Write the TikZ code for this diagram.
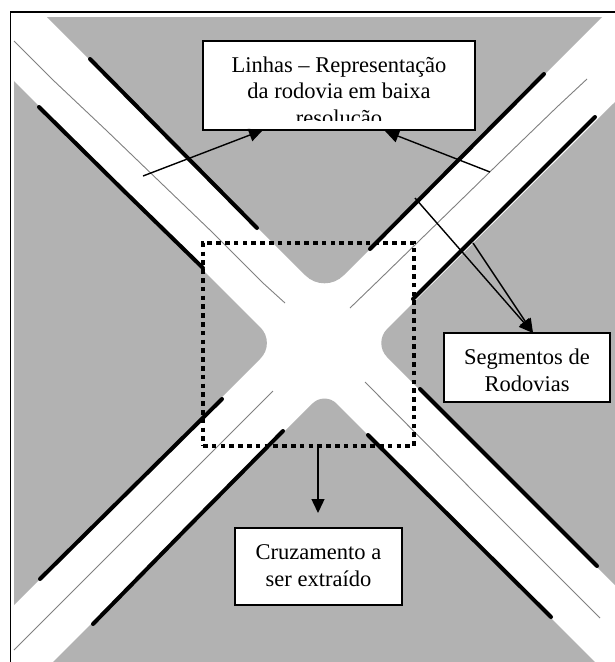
\documentclass[tikz,border=0pt]{standalone}
\usepackage{fontspec}
\setmainfont{Liberation Serif}
\usetikzlibrary{arrows.meta}
\definecolor{terrain}{HTML}{B2B2B2}
\tikzset{
  label box/.style={draw=black,line width=1.7pt,fill=white},
  label text/.style={align=center,font=\fontsize{22.5}{26.5}\selectfont,inner sep=0pt},
  road edge/.style={black,line width=4pt,line cap=round,line join=round},
  road axis/.style={draw=black!50,line width=0.9pt},
  pointer/.style={black,line width=1.4pt,-{Triangle[length=14pt,width=13pt]}},
}
\begin{document}
\begin{tikzpicture}[x=1pt,y=-1pt]
\useasboundingbox (0,0) rectangle (615,662);
% draw background
\fill[white] (0,0) rectangle (615,662);
% draw terrain between the roads
\fill[terrain] (47,17) [rounded corners=27pt] -- (324.5,294.5) [sharp corners] -- (602,17) -- cycle;
\fill[terrain] (14,81) [rounded corners=22pt] -- (276,343) [sharp corners] -- (14,605) -- cycle;
\fill[terrain] (615,102) [rounded corners=20pt] -- (373,343) [sharp corners] -- (615,585) -- cycle;
\fill[terrain] (53,662) [rounded corners=17pt] -- (324.5,391.5) [sharp corners] -- (595,662) -- cycle;
% draw road axes
\draw[road axis] (14,41) -- (53,80) -- (107,131) -- (160,182) -- (212,232) -- (263,283) -- (285,303);
\draw[road axis] (365,382) -- (482,500) -- (600,618);
\draw[road axis] (587,79) -- (557,107) -- (498,164) -- (380,279) -- (350,308);
\draw[road axis] (273,391) -- (14,650);
% draw road edges
\draw[road edge] (90,59) -- (173,143) -- (257,228);
\draw[road edge] (39,107) -- (123,190) -- (203,268);
\draw[road edge] (544,74) -- (370,249);
\draw[road edge] (595,117) -- (413,299);
\draw[road edge] (222,399) -- (132,488) -- (40,579);
\draw[road edge] (283,431) -- (187,528) -- (93,624);
\draw[road edge] (420,389) -- (597,566);
\draw[road edge] (368,435) -- (551,617);
% draw crossing window
\node[draw=black,line width=4pt,dash pattern=on 4.6pt off 4.2pt,minimum width=211pt,minimum height=203pt,inner sep=0pt] (crossWindow) at (308.5,344.5) {};
% draw outer frame
\draw[black,line width=1.6pt] (10.5,662) -- (10.5,12) -- (615,12);
% draw boxes
\node[label box,minimum width=272pt,minimum height=89pt] (lineBox) at (339,85.5) {};
\begin{scope}
\clip (205,43) rectangle (473,120);
\node[label text,anchor=north] (lineText) at (339,56.5) {Linhas – Representação\\da rodovia em baixa\\resolução};
\end{scope}
\node[label box,minimum width=166pt,minimum height=69pt] (segmentBox) at (527,367.5) {};
\node[label text] (segmentText) at (527,370.5) {Segmentos de\\Rodovias};
\node[label box,minimum width=167pt,minimum height=77pt] (crossBox) at (318.5,566.5) {};
\node[label text] (crossText) at (318.5,565.5) {Cruzamento a\\ser extraído};
% draw pointers
\coordinate (lineLeft) at (143,176);
\coordinate (lineLeftTip) at (263,130);
\coordinate (lineRight) at (490,172);
\coordinate (lineRightTip) at (385,131);
\coordinate (edgeUpper) at (415,198);
\coordinate (edgeLower) at (473,243);
\coordinate (segmentTip) at (533,333);
\coordinate (windowFoot) at (318,447);
\coordinate (crossTip) at (318,513);
\draw[pointer] (lineLeft) -- (lineLeftTip);
\draw[pointer] (lineRight) -- (lineRightTip);
\draw[pointer] (edgeUpper) -- (segmentTip);
\draw[pointer] (edgeLower) -- (segmentTip);
\draw[pointer] (windowFoot) -- (crossTip);
\end{tikzpicture}
\end{document}
